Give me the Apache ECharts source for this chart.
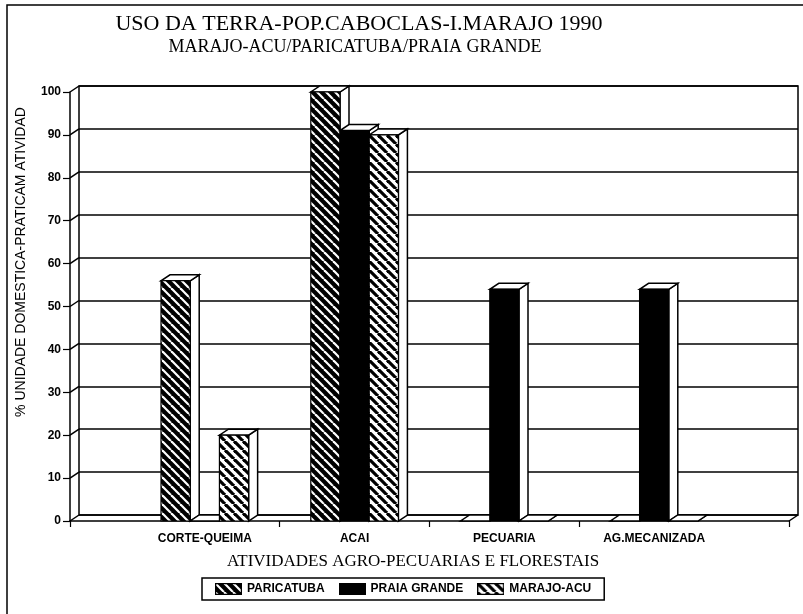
<!DOCTYPE html>
<html>
<head>
<meta charset="utf-8">
<script src="https://cdn.jsdelivr.net/npm/echarts@6/dist/echarts.min.js"></script>
<style>html,body{margin:0;padding:0;background:#fff}#c{width:803px;height:614px}</style>
</head>
<body>
<div id="c"></div>
<script>
// ---- data ----
const CATEGORIES = ['CORTE-QUEIMA', 'ACAI', 'PECUARIA', 'AG.MECANIZADA'];
const SERIES_NAMES = ['PARICATUBA', 'PRAIA GRANDE', 'MARAJO-ACU'];
const PARICATUBA = [56, 100, 0, 0];
const PRAIA_GRANDE = [0, 91, 54, 54];
const MARAJO_ACU = [20, 90, 0, 0];
const Y_TICKS = [0, 10, 20, 30, 40, 50, 60, 70, 80, 90, 100];

// ---- layout constants ----
const X_MIN = -0.9, X_MAX = 3.9;
const BW = 0.195;           // bar width in category units
const DX = 9, DY = -6;      // 3D depth offset (px)

function stripeCanvas(bg, fg, lw, S) {
  const c = document.createElement('canvas');
  c.width = S; c.height = S;
  const g = c.getContext('2d');
  g.fillStyle = bg; g.fillRect(0, 0, S, S);
  g.strokeStyle = fg; g.lineWidth = lw;
  for (const o of [-S, 0, S]) {
    g.beginPath(); g.moveTo(o, 0); g.lineTo(o + S, S); g.stroke();
  }
  return c;
}
const tileP = stripeCanvas('#000', '#fff', 2.2, 9);
const tileM = stripeCanvas('#fff', '#000', 3.2, 9);
const FILLS = [
  { image: tileP, repeat: 'repeat' },
  '#000',
  { image: tileM, repeat: 'repeat' }
];
function legendIcon(fill) {
  const c = document.createElement('canvas');
  c.width = 27; c.height = 12;
  const g = c.getContext('2d');
  if (typeof fill === 'string') { g.fillStyle = fill; }
  else { g.fillStyle = g.createPattern(fill.image, 'repeat'); }
  g.fillRect(0, 0, 27, 12);
  g.strokeStyle = '#000'; g.lineWidth = 1.5; g.strokeRect(0.5, 0.5, 26, 11);
  return 'image://' + c.toDataURL();
}

const chart = echarts.init(document.getElementById('c'));
const FONT = 'Liberation Sans';

function barSeries(idx, values) {
  const off = (idx - 1) * BW;
  return {
    type: 'custom',
    name: SERIES_NAMES[idx],
    xAxisIndex: 0, yAxisIndex: 0,
    clip: false,
    z: 10 + idx,
    data: values.map((v, i) => [i, v]),
    encode: { x: 0, y: 1 },
    renderItem: function (params, api) {
      const x = api.value(0), v = api.value(1);
      const pL = api.coord([x + off - BW / 2, v]);
      const pR = api.coord([x + off + BW / 2, v]);
      const pB = api.coord([x + off - BW / 2, 0]);
      const x0 = pL[0], x1 = pR[0], yt = pL[1], yb = pB[1];
      const children = [];
      children.push({
        type: 'polygon',
        shape: { points: [[x1, yt], [x1 + DX, yt + DY], [x1 + DX, yb + DY], [x1, yb]] },
        style: { fill: '#fff', stroke: '#000', lineWidth: 1.5 }
      });
      children.push({
        type: 'polygon',
        shape: { points: [[x0, yt], [x1, yt], [x1 + DX, yt + DY], [x0 + DX, yt + DY]] },
        style: { fill: '#fff', stroke: '#000', lineWidth: 1.5 }
      });
      if (yb - yt > 0.5) {
        children.push({
          type: 'rect',
          shape: { x: x0, y: yt, width: x1 - x0, height: yb - yt },
          style: { fill: FILLS[idx], stroke: '#000', lineWidth: 1.2 }
        });
      }
      return { type: 'group', children: children };
    }
  };
}

const frameData = Y_TICKS.map(v => [X_MIN, v]).concat([[X_MAX, 0]]);

const option = {
  animation: false,
  backgroundColor: '#fff',
  grid: [
    { left: 70, right: 14, top: 92, bottom: 93 },
    { left: 70 + DX, right: 14 - DX, top: 92 + DY, bottom: 93 - DY,
      show: true, borderColor: '#000', borderWidth: 1.5, backgroundColor: 'transparent' }
  ],
  xAxis: [
    {
      type: 'value', gridIndex: 0, min: X_MIN, max: X_MAX,
      splitLine: { show: false },
      axisLine: { show: true, onZero: false, lineStyle: { color: '#000', width: 1.5 } },
      axisTick: { show: true, length: 6, lineStyle: { color: '#000', width: 1.2 },
                  customValues: [X_MIN, 0.5, 1.5, 2.5, X_MAX] },
      axisLabel: {
        customValues: [0, 1, 2, 3],
        formatter: v => CATEGORIES[Math.round(v)] || '',
        margin: 12, color: '#000', fontFamily: FONT, fontWeight: 'bold', fontSize: 12
      }
    },
    { type: 'value', gridIndex: 1, min: X_MIN, max: X_MAX, show: false }
  ],
  yAxis: [
    {
      type: 'value', gridIndex: 0, min: 0, max: 100, interval: 10,
      splitLine: { show: false },
      axisLine: { show: true, onZero: false, lineStyle: { color: '#000', width: 1.5 } },
      axisTick: { show: true, length: 7, lineStyle: { color: '#000', width: 1.2 } },
      axisLabel: { margin: 9, color: '#000', fontFamily: FONT, fontWeight: 'bold', fontSize: 12 }
    },
    {
      type: 'value', gridIndex: 1, min: 0, max: 100, interval: 10,
      axisLine: { show: false }, axisTick: { show: false }, axisLabel: { show: false },
      splitLine: { show: true, lineStyle: { color: '#000', width: 1.5 } }
    }
  ],
  legend: {
    left: 202, top: 578,
    padding: [5, 13], itemGap: 14,
    itemWidth: 27, itemHeight: 12,
    borderColor: '#000', borderWidth: 1.5,
    selectedMode: false,
    textStyle: { color: '#000', fontFamily: FONT, fontWeight: 'bold', fontSize: 12 },
    data: SERIES_NAMES.map((n, i) => ({ name: n, icon: legendIcon(FILLS[i]) }))
  },
  graphic: [
    { type: 'rect', shape: { x: 7, y: 5, width: 900, height: 700 },
      style: { fill: 'none', stroke: '#000', lineWidth: 1.5 }, silent: true },
    { type: 'text', x: 359, y: 24,
      style: { text: 'USO DA TERRA-POP.CABOCLAS-I.MARAJO 1990', font: '22px "Liberation Serif"',
               fill: '#000', align: 'center', verticalAlign: 'middle' } },
    { type: 'text', x: 355, y: 47,
      style: { text: 'MARAJO-ACU/PARICATUBA/PRAIA GRANDE', font: '18px "Liberation Serif"',
               fill: '#000', align: 'center', verticalAlign: 'middle' } },
    { type: 'text', x: 21, y: 262, rotation: Math.PI / 2,
      style: { text: '% UNIDADE DOMESTICA-PRATICAM ATIVIDAD', font: '14px "Liberation Sans"',
               fill: '#000', align: 'center', verticalAlign: 'middle' } },
    { type: 'text', x: 413, y: 562,
      style: { text: 'ATIVIDADES AGRO-PECUARIAS E FLORESTAIS', font: '17px "Liberation Serif"',
               fill: '#000', align: 'center', verticalAlign: 'middle' } }
  ],
  series: [
    {
      type: 'custom', name: 'frame', xAxisIndex: 0, yAxisIndex: 0, clip: false, z: 5,
      silent: true,
      data: frameData,
      encode: { x: 0, y: 1 },
      renderItem: function (params, api) {
        const p = api.coord([api.value(0), api.value(1)]);
        return { type: 'line', shape: { x1: p[0], y1: p[1], x2: p[0] + DX, y2: p[1] + DY },
                 style: { stroke: '#000', lineWidth: 1.5 } };
      }
    },
    barSeries(0, PARICATUBA),
    barSeries(1, PRAIA_GRANDE),
    barSeries(2, MARAJO_ACU)
  ]
};
chart.setOption(option);
</script>
</body>
</html>
